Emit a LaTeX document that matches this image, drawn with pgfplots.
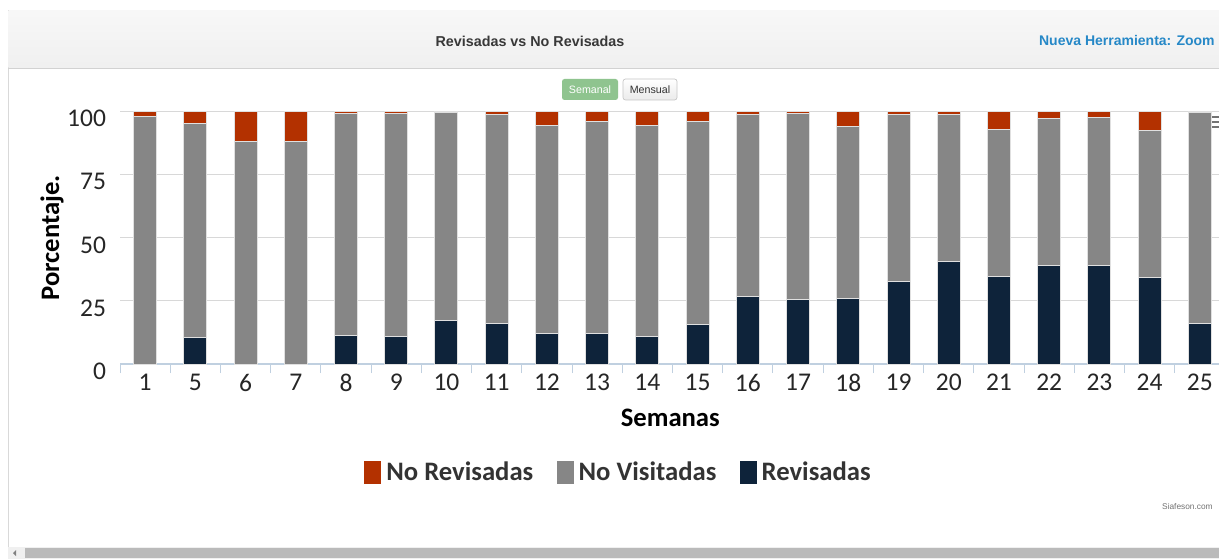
\documentclass[border=0pt]{standalone}
\usepackage{pgfplots}
\pgfplotsset{compat=1.18}
\usepackage{fontspec}
\setmainfont{Carlito}
\newfontfamily\arialf{Liberation Sans}
\definecolor{nr}{RGB}{179,49,0}
\definecolor{nv}{RGB}{134,134,134}
\definecolor{rv}{RGB}{14,35,58}
\definecolor{axl}{RGB}{192,208,224}
\definecolor{gridc}{RGB}{216,216,216}
\definecolor{zoomblue}{RGB}{38,136,199}
\definecolor{btngreen}{RGB}{143,196,143}
\begin{document}
\begin{tikzpicture}[x=0.6pt,y=0.6pt]
\useasboundingbox (0,0) rectangle (1219,559);
% outer frame and header
\fill[white] (0,0) rectangle (1219,559);
\draw[gray!30] (8,12) -- (8,549) -- (1230,549);
\shade[top color=white!97!black, bottom color=white!94!black] (8.5,491) rectangle (1230,548.5);
\draw[gray!35] (8,491) -- (1230,491);
\node[font=\arialf\bfseries\fontsize{8.6pt}{10pt}\selectfont, text=black!78] at (530,518) {Revisadas vs No Revisadas};
\node[font=\arialf\bfseries\fontsize{8.4pt}{10pt}\selectfont, text=zoomblue, anchor=east, inner sep=0pt] at (1215,518) {Nueva Herramienta: Zoom};
% buttons
\fill[btngreen, rounded corners=1.5pt] (562,459) rectangle (618,480);
\node[font=\arialf\fontsize{6.4pt}{8pt}\selectfont, text=white] at (590,469.5) {Semanal};
\shade[top color=white, bottom color=white!92!black, rounded corners=1.5pt] (623,459) rectangle (677,480);
\draw[gray!45, rounded corners=1.5pt] (623,459) rectangle (677,480);
\node[font=\arialf\fontsize{6.4pt}{8pt}\selectfont, text=black!80] at (650,469.5) {Mensual};
% menu icon
\foreach \yy in {442,437,432} \draw[black!55, line width=1.3pt] (1208,\yy) -- (1224,\yy);
% credits
\node[font=\arialf\fontsize{5pt}{6pt}\selectfont, text=black!55, anchor=east, inner sep=0pt] at (1213,52) {Siafeson.com};
% scrollbar
\fill[white!94!black] (8,0) rectangle (1230,12);
\fill[white!73!black] (25,1) rectangle (1230,11);
\fill[black!50] (13,6) -- (16,9) -- (16,3) -- cycle;
\begin{axis}[
  at={(72pt,117pt)}, anchor=south west,
  scale only axis, width=663pt, height=151.8pt,
  ybar stacked, bar width=13.8pt,
  xmin=-0.5, xmax=21.5, ymin=0, ymax=100,
  axis x line=bottom, axis y line=left,
  axis line style={-},
  x axis line style={draw=axl, line width=0.8pt},
  y axis line style={draw=none},
  xtick={-0.5,0.5,...,21.5},
  x tick label as interval,
  xticklabels={1,5,6,7,8,9,10,11,12,13,14,15,16,17,18,19,20,21,22,23,24,25},
  xtick style={draw=axl, line width=0.6pt},
  major tick length=5.4pt, tick align=outside,
  ytick={0,25,50,75,100},
  ytick style={draw=none},
  ymajorgrids, grid style={draw=gridc, line width=0.6pt},
  /pgf/number format/assume math mode=true,
  ticklabel style={font=\fontsize{15.3pt}{17pt}\selectfont, text=black!85},
  xticklabel style={yshift=3pt},
  yticklabel style={xshift=0.5pt, yshift=-4.5pt},
  xlabel={\textbf{Semanas}},
  xlabel style={at={(axis description cs:0.498,-0.213)}, anchor=center, font=\fontsize{16pt}{18pt}\selectfont},
  ylabel={\textbf{Porcentaje.}},
  ylabel style={at={(axis description cs:-0.0615,0.498)}, anchor=center, rotate=0, font=\fontsize{16pt}{18pt}\selectfont},
  legend columns=3,
  legend style={at={(axis description cs:0.4525,-0.427)}, anchor=center, draw=none, fill=none,
    font=\bfseries\fontsize{16pt}{18pt}\selectfont, text=black!80,
    /tikz/every even column/.append style={column sep=11pt},
    /tikz/every odd column/.append style={column sep=0pt},
    nodes={inner xsep=3pt}},
  legend image code/.code={\fill[#1, draw=none] (0pt,-6.9pt) rectangle (10.2pt,6.9pt);},
]
\addlegendimage{fill=nr, draw=none}
\addlegendentry{No Revisadas}
\addlegendimage{fill=nv, draw=none}
\addlegendentry{No Visitadas}
\addlegendimage{fill=rv, draw=none}
\addlegendentry{Revisadas}
\addplot+[forget plot, fill=rv, draw=white!88!black, line width=0.6pt] coordinates {
(0,0) (1,10.5) (2,0) (3,0) (4,11.2) (5,10.8) (6,17.0) (7,16.1) (8,12.1) (9,12.1) (10,10.8)
(11,15.8) (12,26.7) (13,25.6) (14,26.0) (15,32.5) (16,40.7) (17,34.5) (18,39.1) (19,39.1) (20,34.1) (21,16.1)};
\addplot+[forget plot, fill=nv, draw=white!88!black, line width=0.6pt] coordinates {
(0,97.8) (1,84.4) (2,88.0) (3,88.0) (4,87.7) (5,88.1) (6,82.5) (7,82.5) (8,82.1) (9,83.6) (10,83.3)
(11,79.9) (12,71.9) (13,73.3) (14,67.7) (15,66.1) (16,57.9) (17,58.3) (18,57.9) (19,58.3) (20,58.0) (21,83.4)};
\addplot+[forget plot, fill=nr, draw=white!88!black, line width=0.6pt] coordinates {
(0,2.2) (1,5.1) (2,12.0) (3,12.0) (4,1.1) (5,1.1) (6,0.5) (7,1.4) (8,5.8) (9,4.3) (10,5.9)
(11,4.3) (12,1.4) (13,1.1) (14,6.3) (15,1.4) (16,1.4) (17,7.2) (18,3.0) (19,2.6) (20,7.9) (21,0.5)};
\end{axis}
\end{tikzpicture}
\end{document}
